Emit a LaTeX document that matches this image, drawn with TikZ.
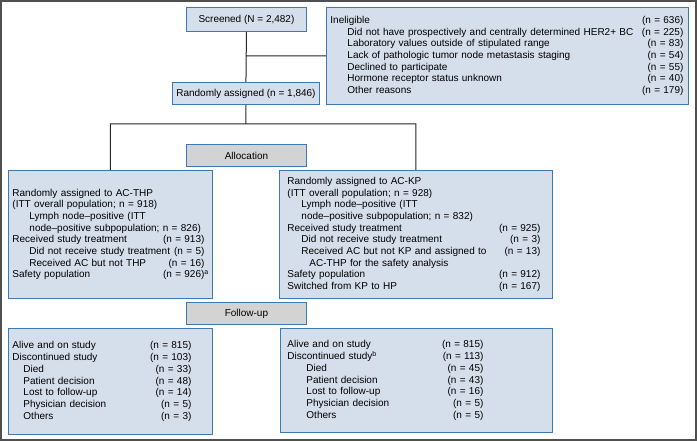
\documentclass[tikz,border=0pt]{standalone}
\usepackage{fontspec}
\setmainfont{Liberation Sans}
\usepackage{xcolor}
\usetikzlibrary{arrows}

\definecolor{panelfill}{HTML}{D5DEEB}
\definecolor{panelrule}{HTML}{3B7BB5}
\definecolor{stagefill}{HTML}{D3D3D3}
\definecolor{framegray}{HTML}{505050}

\newlength{\numgap}
\newcommand{\cnt}[2][]{\hfill\makebox[0pt][r]{(n = #2)\rlap{\textsuperscript{#1}}\hspace*{\numgap}}}
\newcommand{\ind}[1]{\hspace*{#1}}

\tikzset{
	panel/.style={draw=panelrule, fill=panelfill, line width=0.9pt, anchor=north west,
		align=left, inner ysep=0pt, font=\fontsize{10}{11.7}\selectfont,
		/utils/exec={\setlength{\numgap}{#1}}},
	panel/.default=4pt,
	stage/.style={panel, fill=stagefill, minimum width=120pt, minimum height=22pt},
	link/.style={draw=black!85, line width=1pt}
}

\begin{document}
\begin{tikzpicture}[x=1pt, y=-1pt]
		\useasboundingbox (0,0) rectangle (697,441);
		\draw[framegray, line width=2pt] (1,1) rectangle (696,440);
		%
		\node[panel, minimum width=120pt, minimum height=24pt] (screened) at (186,7) {Screened (N = 2,482)};
		\node[panel=1pt, text width=354pt, inner xsep=4pt, minimum height=97pt] (inelig) at (326,7) {%
			Ineligible\cnt{636}\\
			\ind{17pt}Did not have prospectively and centrally determined HER2+ BC\cnt{225}\\
			\ind{17pt}Laboratory values outside of stipulated range\cnt{83}\\
			\ind{17pt}Lack of pathologic tumor node metastasis staging\cnt{54}\\
			\ind{17pt}Declined to participate\cnt{55}\\
			\ind{17pt}Hormone receptor status unknown\cnt{40}\\
			\ind{17pt}Other reasons\cnt{179}};
		\node[panel, minimum width=147pt, minimum height=22pt] (rand) at (172,82) {Randomly assigned (n = 1,846)};
		%
		\node[stage] (alloc) at (186,144) {Allocation};
		\node[panel=4pt, text width=196pt, inner xsep=4pt, minimum height=128pt] (thp) at (8,170) {%
			Randomly assigned to AC-THP\\
			(ITT overall population; n = 918)\\
			\ind{17pt}Lymph node–positive (ITT\\
			\ind{17pt}node–positive subpopulation; n = 826)\\
			Received study treatment\cnt{913}\\
			\ind{17pt}Did not receive study treatment\cnt{5}\\
			\ind{17pt}Received AC but not THP\cnt{16}\\
			Safety population\cnt[a]{926}};
		\node[panel=4pt, text width=257pt, inner xsep=8pt, minimum height=128pt] (kp) at (279,170) {%
			Randomly assigned to AC-KP\\
			(ITT overall population; n = 928)\\
			\ind{14pt}Lymph node–positive (ITT\\
			\ind{14pt}node–positive subpopulation; n = 832)\\
			Received study treatment\cnt{925}\\
			\ind{14pt}Did not receive study treatment\cnt{3}\\
			\ind{14pt}Received AC but not KP and assigned to\cnt{13}\\
			\ind{22pt}AC-THP for the safety analysis\\
			Safety population\cnt{912}\\
			Switched from KP to HP\cnt{167}};
		%
		\node[stage] (follow) at (186,302) {Follow-up};
		\node[panel=17pt, text width=196pt, inner xsep=4pt, minimum height=106pt] (thpfu) at (8,328) {%
			Alive and on study\cnt{815}\\
			Discontinued study\cnt{103}\\
			\ind{11pt}Died\cnt{33}\\
			\ind{11pt}Patient decision\cnt{48}\\
			\ind{11pt}Lost to follow-up\cnt{14}\\
			\ind{11pt}Physician decision\cnt{5}\\
			\ind{11pt}Others\cnt{3}};
		\node[panel=62pt, text width=258pt, inner xsep=7pt, minimum height=104pt] (kpfu) at (280,328) {%
			Alive and on study\cnt{815}\\
			Discontinued study\textsuperscript{b}\cnt{113}\\
			\ind{19pt}Died\cnt{45}\\
			\ind{19pt}Patient decision\cnt{43}\\
			\ind{19pt}Lost to follow-up\cnt{16}\\
			\ind{19pt}Physician decision\cnt{5}\\
			\ind{19pt}Others\cnt{5}};
		%
		\coordinate (split) at (246,124);
		\path[link]
			(screened.south) -- (rand.north)
			(screened.south |- inelig.west) -- (inelig.west)
			(rand.south) -- (split)
			(thp.north) |- (split) -| (kp.north);
	\end{tikzpicture}
\end{document}
